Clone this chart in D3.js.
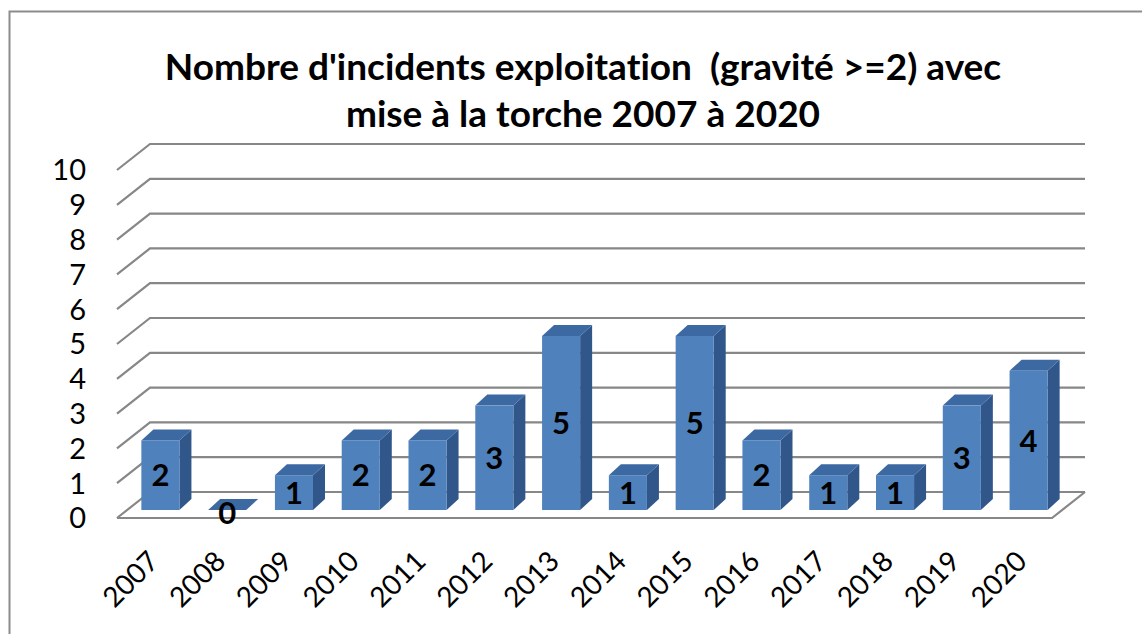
<!DOCTYPE html>
<html>
<head>
<meta charset="utf-8">
<script src="https://cdn.jsdelivr.net/npm/d3@7"></script>
<style>
  body { margin: 0; background: #fff; }
  svg text { font-family: Lato, "Open Sans", sans-serif; fill: #000; font-variant-ligatures: none; }
</style>
</head>
<body>
<svg id="chart" width="1142" height="634"></svg>
<script>
const years = ['2007', '2008', '2009', '2010', '2011', '2012', '2013', '2014', '2015', '2016', '2017', '2018', '2019', '2020'];
const incidents = [2, 0, 1, 2, 2, 3, 5, 1, 5, 2, 1, 1, 3, 4];
const yTicks = [0, 1, 2, 3, 4, 5, 6, 7, 8, 9, 10];
const titleLines = ["Nombre d'incidents exploitation\u00a0 (gravité >=2) avec", "mise à la torche 2007 à 2020"];

const svg = d3.select('#chart');

// outer frame
svg.append('rect')
  .attr('x', 9.5).attr('y', 11.5)
  .attr('width', 1160).attr('height', 640)
  .attr('fill', 'none')
  .attr('stroke', '#8c8c8c')
  .attr('stroke-width', 2);

// title
svg.append('g').selectAll('text')
  .data(titleLines)
  .enter()
  .append('text')
  .attr('x', 583)
  .attr('y', (d, i) => 80 + i * 47)
  .attr('text-anchor', 'middle')
  .attr('font-size', '37px')
  .attr('font-weight', 'bold')
  .text(d => d);

// 3d geometry: front plane of the floor, then depth offsets
const floorDx = 33, floorDy = -26;
const barPlaneDx = 10, barPlaneDy = -8;
const barDx = 12, barDy = -11;

const xScale = d3.scaleBand()
  .domain(years)
  .range([117, 1052])
  .paddingInner(0.43)
  .paddingOuter(0.215);

const yScale = d3.scaleLinear()
  .domain([0, 10])
  .range([518, 170]);

const grid = svg.append('g')
  .attr('stroke', '#878787')
  .attr('stroke-width', 2.2)
  .attr('fill', 'none');

// back wall lines + left wall diagonals
yTicks.forEach(t => {
  const yf = yScale(t);
  grid.append('path')
    .attr('d', `M${xScale.range()[0]},${yf} L${xScale.range()[0] + floorDx},${yf + floorDy} L${xScale.range()[1] + floorDx},${yf + floorDy}`);
});

// floor front and right edges
grid.append('path')
  .attr('d', `M${xScale.range()[0]},${yScale(0)} L${xScale.range()[1]},${yScale(0)} L${xScale.range()[1] + floorDx},${yScale(0) + floorDy}`);

// y axis labels
svg.append('g').selectAll('text')
  .data(yTicks)
  .enter()
  .append('text')
  .attr('x', 86)
  .attr('y', d => yScale(d))
  .attr('dy', '0.36em')
  .attr('text-anchor', 'end')
  .attr('font-size', '29px')
  .text(d => d);

// bars
const bars = svg.append('g').selectAll('g')
  .data(years.map((y, i) => ({ year: y, value: incidents[i] })))
  .enter()
  .append('g');

const bx = d => xScale(d.year) + barPlaneDx;
const by0 = yScale(0) + barPlaneDy;
const by = d => yScale(d.value) + barPlaneDy;
const bw = xScale.bandwidth();

bars.append('path')
  .attr('fill', '#30568a')
  .attr('d', d => `M${bx(d) + bw},${by(d)} L${bx(d) + bw + barDx},${by(d) + barDy} L${bx(d) + bw + barDx},${by0 + barDy} L${bx(d) + bw},${by0} Z`);

bars.append('path')
  .attr('fill', '#3d69a3')
  .attr('d', d => `M${bx(d)},${by(d)} L${bx(d) + barDx},${by(d) + barDy} L${bx(d) + bw + barDx},${by(d) + barDy} L${bx(d) + bw},${by(d)} Z`);

bars.append('rect')
  .attr('fill', '#4f81bd')
  .attr('x', bx)
  .attr('y', by)
  .attr('width', bw)
  .attr('height', d => by0 - by(d));

bars.append('text')
  .attr('x', d => bx(d) + bw / 2)
  .attr('y', d => d.value === 0 ? by0 + 3 : (by(d) + by0) / 2)
  .attr('dy', '0.36em')
  .attr('text-anchor', 'middle')
  .attr('font-size', '31px')
  .attr('font-weight', 'bold')
  .text(d => d.value);

// x labels
svg.append('g').selectAll('text')
  .data(years)
  .enter()
  .append('text')
  .attr('transform', d => `translate(${xScale(d) + bw / 2 + 10},563) rotate(-45)`)
  .attr('text-anchor', 'end')
  .attr('font-size', '28px')
  .text(d => d);
</script>
</body>
</html>
